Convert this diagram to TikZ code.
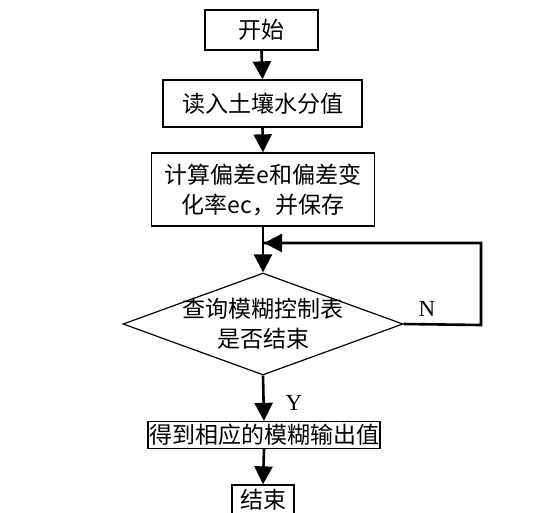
\documentclass[tikz,border=0pt]{standalone}
\usepackage{fontspec}
\setmainfont{Liberation Serif}
\newfontfamily\cjk{Noto Sans CJK SC}
\usetikzlibrary{arrows.meta,shapes.geometric}
\begin{document}
\begin{tikzpicture}[x=1pt,y=-1pt,
  box/.style={draw,line width=1.3pt,inner sep=0pt,font=\cjk\fontsize{23}{30}\selectfont},
  dia/.style={draw,diamond,line width=1.2pt,inner sep=-5pt,aspect=2.75,align=center,font=\cjk\fontsize{23}{30}\selectfont},
  arr/.style={line width=2.6pt,-{Triangle[length=18pt,width=18pt]}},
  loopline/.style={line width=2.6pt},
  lbl/.style={font=\fontsize{23}{24}\selectfont}]
\useasboundingbox (0,0) rectangle (546,512);
\node[box,minimum width=113pt,minimum height=40pt] (start) at (261.5,30) {开始};
\node[box,minimum width=199pt,minimum height=47pt] (read) at (262.5,103.5) {读入土壤水分值};
\node[box,minimum width=223pt,minimum height=73pt,align=center] (calc) at (263,189.5) {计算偏差e和偏差变\\化率ec，并保存};
\node[dia,minimum width=280pt,minimum height=102pt] (dec) at (263,324) {查询模糊控制表\\是否结束};
\node[box,minimum width=232pt,minimum height=27pt] (out) at (264,435) {得到相应的模糊输出值};
\node[box,minimum width=62pt,minimum height=30pt] (end) at (263,500) {结束};
\coordinate (j) at (263,243);
\coordinate (c1) at (481,243);
\coordinate (c2) at (481,325);
\draw[arr] (start.south) -- (read.north);
\draw[arr] (read.south) -- (calc.north);
\draw[arr] (calc.south) -- (dec.north);
\draw[loopline] (dec.east) -- (c2) -- (c1) -- (j);
\draw[arr] (c1) -- ([xshift=1pt]j);
\draw[arr] (dec.south) -- (out.north);
\draw[arr] (out.south) -- (end.north);
\node[lbl] (n) at (427,309) {N};
\node[lbl] (y) at (294,403) {Y};
\end{tikzpicture}
\end{document}
